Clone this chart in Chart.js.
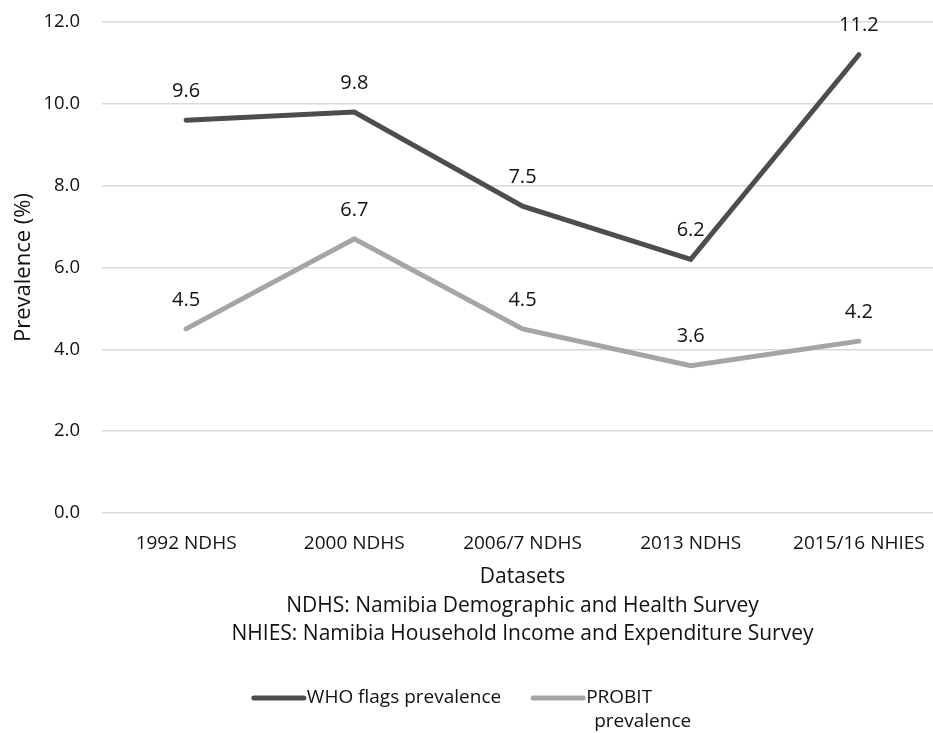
<!DOCTYPE html>
<html>
<head>
<meta charset="utf-8">
<script src="https://cdn.jsdelivr.net/npm/chart.js@4.4.1/dist/chart.umd.min.js"></script>
<style>
  html, body { margin: 0; padding: 0; background: #ffffff; overflow: hidden; }
  /* plot runs a little past the right edge, like the original figure */
  #wrap { width: 943px; height: 733px; }
</style>
</head>
<body>
<div id="wrap"><canvas id="prevChart"></canvas></div>
<script>
  // chart data
  const categories = ['1992 NDHS', '2000 NDHS', '2006/7 NDHS', '2013 NDHS', '2015/16 NHIES'];
  const whoFlags = [9.6, 9.8, 7.5, 6.2, 11.2];
  const probit = [4.5, 6.7, 4.5, 3.6, 4.2];
  const seriesNames = ['WHO flags prevalence', ['PROBIT', 'prevalence']];
  const xTitle = [
    'Datasets',
    'NDHS: Namibia Demographic and Health Survey',
    'NHIES: Namibia Household Income and Expenditure Survey'
  ];
  const yTitle = 'Prevalence (%)';

  const FONT = '"Open Sans", Lato, sans-serif';
  const TEXT = '#111111';

  // draws the value above each point
  const valueLabels = {
    id: 'valueLabels',
    afterDatasetsDraw(chart) {
      const ctx = chart.ctx;
      ctx.save();
      ctx.font = '20px ' + FONT;
      ctx.fillStyle = TEXT;
      ctx.textAlign = 'center';
      ctx.textBaseline = 'middle';
      chart.data.datasets.forEach((ds, i) => {
        chart.getDatasetMeta(i).data.forEach((pt, j) => {
          ctx.fillText(ds.data[j].toFixed(1), pt.x, pt.y - 29);
        });
      });
      ctx.restore();
    }
  };

  // bottom legend, second name wraps onto two lines
  const bottomLegend = {
    id: 'bottomLegend',
    afterDraw(chart) {
      const ctx = chart.ctx;
      ctx.save();
      ctx.font = '19px ' + FONT;
      ctx.textBaseline = 'middle';
      ctx.textAlign = 'left';
      const sample = 52, gap = 3, itemGap = 30, lineH = 24, indent = 8;
      const items = chart.data.datasets.map(ds => {
        const lines = Array.isArray(ds.label) ? ds.label : [ds.label];
        const w = Math.max(...lines.map((l, k) => ctx.measureText(l).width + (k ? indent : 0)));
        return { lines, w, color: ds.borderColor };
      });
      let total = items.reduce((s, it) => s + sample + gap + it.w, 0) + itemGap * (items.length - 1);
      let x = (chart.width - total) / 2;
      const y = 698;
      items.forEach(it => {
        ctx.strokeStyle = it.color;
        ctx.lineWidth = 5;
        ctx.lineCap = 'round';
        ctx.beginPath();
        ctx.moveTo(x + 2, y);
        ctx.lineTo(x + sample, y);
        ctx.stroke();
        ctx.fillStyle = TEXT;
        it.lines.forEach((l, k) => {
          ctx.fillText(l, x + sample + gap + (k ? indent : 0), y + k * lineH);
        });
        x += sample + gap + it.w + itemGap;
      });
      ctx.restore();
    }
  };

  const ctx = document.getElementById('prevChart').getContext('2d');
  new Chart(ctx, {
    type: 'line',
    data: {
      labels: categories,
      datasets: [
        {
          label: seriesNames[0],
          data: whoFlags,
          borderColor: '#4d4d4d',
          backgroundColor: '#4d4d4d',
          borderWidth: 5,
          borderCapStyle: 'round',
          pointRadius: 0,
          fill: false,
          tension: 0
        },
        {
          label: seriesNames[1],
          data: probit,
          borderColor: '#a5a5a5',
          backgroundColor: '#a5a5a5',
          borderWidth: 5,
          borderCapStyle: 'round',
          pointRadius: 0,
          fill: false,
          tension: 0
        }
      ]
    },
    options: {
      responsive: true,
      maintainAspectRatio: false,
      animation: false,
      layout: {
        padding: { left: 11, right: 0, top: 22, bottom: 84 }
      },
      plugins: {
        legend: { display: false },
        tooltip: { enabled: false }
      },
      scales: {
        x: {
          offset: true,
          grid: { display: false, drawTicks: false },
          border: { display: false },
          ticks: {
            color: TEXT,
            padding: 19,
            maxRotation: 0,
            font: { size: 19, family: FONT }
          },
          title: {
            display: true,
            text: xTitle,
            color: TEXT,
            padding: { top: 0, bottom: 0 },
            font: { size: 21, family: FONT, lineHeight: 1.38 }
          },
          afterFit: (scale) => {
            scale.height = 136;
            scale.paddingLeft = 0;
            scale.paddingRight = 0;
          }
        },
        y: {
          min: 0,
          max: 12,
          ticks: {
            stepSize: 2,
            color: TEXT,
            padding: 22,
            font: { size: 18.5, family: FONT },
            callback: (v) => v.toFixed(1)
          },
          grid: { color: '#d9d9d9', lineWidth: 1.5, drawTicks: false },
          border: { display: false },
          title: {
            display: true,
            text: yTitle,
            color: TEXT,
            padding: { top: 0, bottom: 8 },
            font: { size: 22, family: FONT }
          },
          afterFit: (scale) => {
            scale.width = 91;
            scale.paddingTop = 11;
            scale.paddingBottom = 11;
          }
        }
      }
    },
    plugins: [valueLabels, bottomLegend]
  });
</script>
</body>
</html>
